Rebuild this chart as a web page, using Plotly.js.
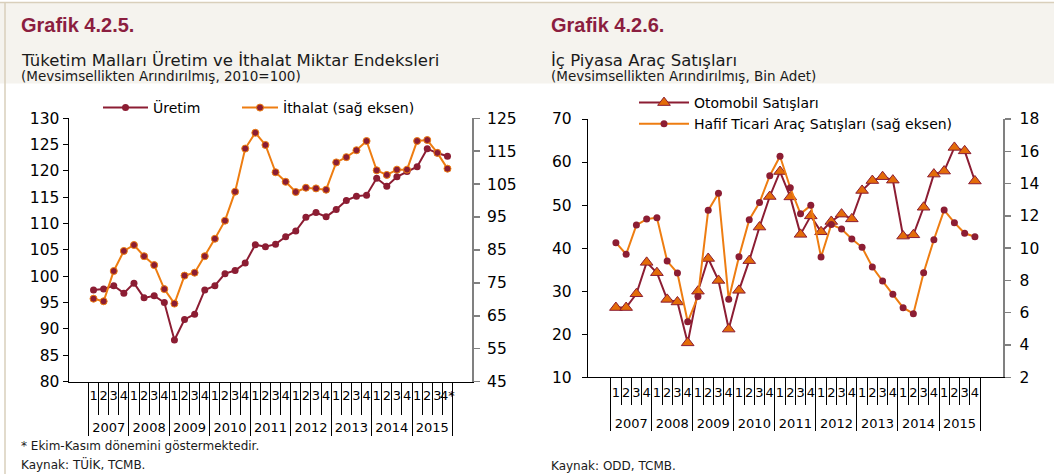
<!DOCTYPE html>
<html>
<head>
<meta charset="utf-8">
<script src="https://cdn.plot.ly/plotly-3.0.1.min.js"></script>
<style>html,body{margin:0;padding:0;background:#fff;}#chart{width:1054px;height:474px;}</style>
</head>
<body>
<div id="chart"></div>
<script>
// ---- data ----
const years = ['2007','2008','2009','2010','2011','2012','2013','2014','2015'];
const quarters = ['1','2','3','4'];
const lastQuarterLeft = '4*';

const uretim = [97.4, 97.6, 98.2, 96.8, 98.7, 95.9, 96.3, 95.0, 87.9, 91.8, 92.8, 97.4,
                98.2, 100.5, 101.1, 102.5, 106.0, 105.6, 106.1, 107.5, 108.6, 111.2, 112.1, 111.3,
                112.7, 114.4, 115.2, 115.4, 118.6, 117.1, 118.9, 119.9, 120.8, 124.2, 123.4, 122.8];
const ithalat = [70.2, 69.4, 78.6, 84.7, 86.5, 83.1, 80.4, 73.1, 68.7, 77.2, 78.1, 83.1,
                 88.4, 93.9, 102.7, 115.8, 120.6, 116.9, 108.6, 105.7, 102.6, 103.9, 103.7, 103.3,
                 111.6, 113.2, 115.3, 118.1, 109.2, 107.8, 109.4, 109.4, 118.1, 118.4, 114.5, 109.7];
const otomobil = [26.2, 26.2, 29.4, 36.7, 34.3, 28.1, 27.5, 18.0, 30.0, 37.6, 32.5, 21.2,
                  30.2, 37.1, 44.9, 52.0, 57.8, 51.9, 43.2, 47.5, 43.8, 46.2, 47.9, 46.8,
                  53.4, 55.7, 56.6, 55.8, 42.8, 43.1, 49.5, 57.2, 57.9, 63.4, 62.6, 55.6];
const hafif = [10.34, 9.62, 11.43, 11.8, 11.89, 9.2, 8.46, 5.44, 7.0, 12.34, 13.4, 6.83,
               9.47, 11.76, 12.82, 14.49, 15.69, 13.74, 12.13, 12.65, 9.45, 11.47, 11.18, 10.57,
               10.05, 8.83, 7.96, 7.14, 6.31, 5.94, 8.48, 10.52, 12.36, 11.58, 10.92, 10.71];

// ---- categories ----
// quarter labels get an empty second line so the year row sits lower, as in the source
function buildX(lastLabel){
  const yr = [], q = [];
  years.forEach((y, yi) => quarters.forEach((qq, qi) => {
    yr.push(y);
    const lab = (yi === years.length - 1 && qi === 3 && lastLabel) ? lastLabel : qq;
    q.push(lab + '<br> ');
  }));
  return [yr, q];
}
const xLeft = buildX(lastQuarterLeft);
const xRight = buildX(null);

// ---- style ----
const MAROON = '#8C1D33';
const ORANGE = '#EE7D11';
const TRI = '#E36C09';
const W = 1054, H = 474;
const px = v => v / W;
const py = v => 1 - v / H;
const FONT = 'DejaVu Sans';

const traces = [
  {x: xLeft, y: uretim, name: 'Üretim', type: 'scatter', mode: 'lines+markers',
   xaxis: 'x', yaxis: 'y', legend: 'legend',
   line: {color: MAROON, width: 2}, marker: {symbol: 'circle', size: 7, color: MAROON}},
  {x: xLeft, y: ithalat, name: 'İthalat (sağ eksen)', type: 'scatter', mode: 'lines+markers',
   xaxis: 'x', yaxis: 'y2', legend: 'legend2',
   line: {color: ORANGE, width: 2}, marker: {symbol: 'circle', size: 7, color: MAROON, line: {color: ORANGE, width: 1}}},
  {x: xRight, y: otomobil, name: 'Otomobil Satışları', type: 'scatter', mode: 'lines+markers',
   xaxis: 'x2', yaxis: 'y3', legend: 'legend3', legendrank: 1,
   line: {color: MAROON, width: 2}, marker: {symbol: 'triangle-up', size: 11, color: TRI, line: {color: MAROON, width: 1}}},
  {x: xRight, y: hafif, name: 'Hafif Ticari Araç Satışları (sağ eksen)', type: 'scatter', mode: 'lines+markers',
   xaxis: 'x2', yaxis: 'y4', legend: 'legend3', legendrank: 2,
   line: {color: ORANGE, width: 2}, marker: {symbol: 'circle', size: 7, color: MAROON}}
];

const xCommon = {
  type: 'multicategory', showline: true, linecolor: '#000', linewidth: 1,
  ticks: 'outside', tickson: 'boundaries', tickcolor: '#000', tickwidth: 1, tickangle: 0, dtick: 1, tickmode: 'linear',
  tickfont: {family: FONT, size: 13, color: '#000'},
  showdividers: true, dividercolor: '#000', dividerwidth: 1,
  showgrid: false, zeroline: false, automargin: false, fixedrange: true
};
const yLeftCommon = {
  showline: true, linecolor: '#000', linewidth: 1.5, ticks: 'outside', ticklen: 5,
  tickcolor: '#000', tickfont: {family: FONT, size: 15.5, color: '#000'},
  showgrid: false, zeroline: false, automargin: false, fixedrange: true
};
const yRightCommon = {
  showline: true, linecolor: '#808080', linewidth: 2, ticks: 'outside', ticklen: 6,
  tickcolor: '#808080', tickwidth: 1.5, tickfont: {family: FONT, size: 15.5, color: '#000'},
  showgrid: false, zeroline: false, automargin: false, fixedrange: true, side: 'right'
};
// inner half of the crossing ticks on the right-hand axes
const yInnerTicks = {
  side: 'right', showline: false, showticklabels: false, ticks: 'inside', ticklen: 5,
  tickcolor: '#808080', tickwidth: 1.5, showgrid: false, zeroline: false, automargin: false, fixedrange: true
};

const layout = {
  width: W, height: H, autosize: false,
  margin: {l: 0, r: 0, t: 0, b: 0, pad: 0},
  paper_bgcolor: '#fff', plot_bgcolor: 'rgba(0,0,0,0)',
  font: {family: FONT, color: '#000'},
  xaxis: Object.assign({}, xCommon, {domain: [px(69), px(472)], anchor: 'y', ticklen: 32, ticklabelstandoff: 2}),
  yaxis: Object.assign({}, yLeftCommon, {domain: [py(381.6), py(118.3)], anchor: 'x', range: [80, 130], dtick: 5, tick0: 80}),
  yaxis2: Object.assign({}, yRightCommon, {domain: [py(381.6), py(118.3)], anchor: 'x', overlaying: 'y', range: [45, 125], dtick: 10, tick0: 45, ticklabelstandoff: 4}),
  yaxis5: Object.assign({}, yInnerTicks, {domain: [py(381.6), py(118.3)], anchor: 'x', overlaying: 'y', range: [45, 125], dtick: 10, tick0: 45}),
  xaxis2: Object.assign({}, xCommon, {domain: [px(588.3), px(1002.5)], anchor: 'y3', ticklen: 27, ticklabelstandoff: 3}),
  yaxis3: Object.assign({}, yLeftCommon, {domain: [py(377.3), py(119)], anchor: 'x2', range: [10, 70], dtick: 10, tick0: 10, ticklabelstandoff: 7}),
  yaxis4: Object.assign({}, yRightCommon, {domain: [py(377.3), py(119)], anchor: 'x2', overlaying: 'y3', range: [2, 18], dtick: 2, tick0: 2, ticklabelstandoff: 6}),
  yaxis6: Object.assign({}, yInnerTicks, {domain: [py(377.3), py(119)], anchor: 'x2', overlaying: 'y3', range: [2, 18], dtick: 2, tick0: 2}),
  showlegend: true,
  legend: {x: px(98), y: py(92), xanchor: 'left', yanchor: 'top', bgcolor: 'rgba(0,0,0,0)',
           font: {family: FONT, size: 14, color: '#000'}, itemwidth: 45},
  legend2: {x: px(237), y: py(92), xanchor: 'left', yanchor: 'top', bgcolor: 'rgba(0,0,0,0)',
            font: {family: FONT, size: 14, color: '#000'}, itemwidth: 36},
  legend3: {x: px(634), y: py(87), xanchor: 'left', yanchor: 'top', bgcolor: 'rgba(0,0,0,0)',
            font: {family: FONT, size: 14, color: '#000'}, itemwidth: 50, tracegroupgap: 0},
  shapes: [
    {type: 'rect', xref: 'paper', yref: 'paper', x0: 0, x1: 1, y0: py(83.5), y1: py(3), fillcolor: '#F5F3EE', line: {width: 0}, layer: 'below'},
    {type: 'line', xref: 'paper', yref: 'paper', x0: 0, x1: 1, y0: py(2.5), y1: py(2.5), line: {color: '#D9CFBB', width: 1.5}},
    {type: 'line', xref: 'paper', yref: 'paper', x0: px(5), x1: px(5), y0: 0, y1: py(2.5), line: {color: '#D9CFBB', width: 1.5}}
  ],
  annotations: [
    {text: '<b>Grafik 4.2.5.</b>', x: px(19), y: py(25), xref: 'paper', yref: 'paper', xanchor: 'left', yanchor: 'middle', showarrow: false,
     font: {family: 'Liberation Sans', size: 20, color: '#8B1E3F'}},
    {text: 'Tüketim Malları Üretim ve İthalat Miktar Endeksleri', x: px(19), y: py(61), xref: 'paper', yref: 'paper', xanchor: 'left', yanchor: 'middle', showarrow: false,
     font: {family: FONT, size: 16.5, color: '#1a1a1a'}},
    {text: '(Mevsimsellikten Arındırılmış, 2010=100)', x: px(19), y: py(76), xref: 'paper', yref: 'paper', xanchor: 'left', yanchor: 'middle', showarrow: false,
     font: {family: FONT, size: 13.5, color: '#1a1a1a'}},
    {text: '<b>Grafik 4.2.6.</b>', x: px(549), y: py(25), xref: 'paper', yref: 'paper', xanchor: 'left', yanchor: 'middle', showarrow: false,
     font: {family: 'Liberation Sans', size: 20, color: '#8B1E3F'}},
    {text: 'İç Piyasa Araç Satışları', x: px(549), y: py(61), xref: 'paper', yref: 'paper', xanchor: 'left', yanchor: 'middle', showarrow: false,
     font: {family: FONT, size: 16.5, color: '#1a1a1a'}},
    {text: '(Mevsimsellikten Arındırılmış, Bin Adet)', x: px(549), y: py(76), xref: 'paper', yref: 'paper', xanchor: 'left', yanchor: 'middle', showarrow: false,
     font: {family: FONT, size: 13.5, color: '#1a1a1a'}},
    {text: '* Ekim-Kasım dönemini göstermektedir.', x: px(19), y: py(446), xref: 'paper', yref: 'paper', xanchor: 'left', yanchor: 'middle', showarrow: false,
     font: {family: FONT, size: 12, color: '#1a1a1a'}},
    {text: 'Kaynak: TÜİK, TCMB.', x: px(19), y: py(464), xref: 'paper', yref: 'paper', xanchor: 'left', yanchor: 'middle', showarrow: false,
     font: {family: FONT, size: 12, color: '#1a1a1a'}},
    {text: 'Kaynak: ODD, TCMB.', x: px(549), y: py(466), xref: 'paper', yref: 'paper', xanchor: 'left', yanchor: 'middle', showarrow: false,
     font: {family: FONT, size: 12, color: '#1a1a1a'}}
  ]
};

Plotly.newPlot('chart', traces, layout, {staticPlot: true, displayModeBar: false});
</script>
</body>
</html>
